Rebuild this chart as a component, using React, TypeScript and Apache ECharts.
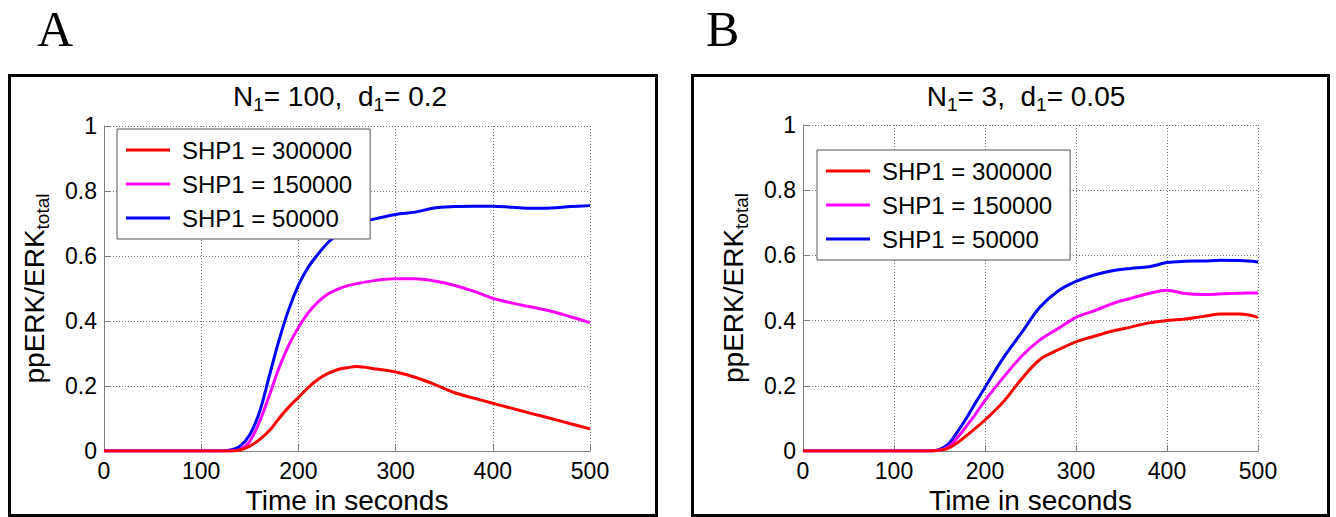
import React, { useEffect, useRef } from "react";
import * as echarts from "echarts";

// ---------- data ----------
const xTicks = [0, 100, 200, 300, 400, 500];

const timesA = [0, 100, 120, 130, 140, 150, 160, 170, 180, 190, 200, 210, 220, 230, 240, 250, 260, 280, 300, 320, 340, 360, 380, 400, 420, 440, 460, 480, 500];
const shp300000A = [0, 0, 0, 0, 0.003, 0.015, 0.035, 0.062, 0.1, 0.135, 0.165, 0.195, 0.22, 0.238, 0.25, 0.256, 0.26, 0.252, 0.243, 0.227, 0.205, 0.18, 0.163, 0.147, 0.131, 0.115, 0.1, 0.084, 0.068];
const shp150000A = [0, 0, 0, 0, 0.005, 0.03, 0.09, 0.17, 0.255, 0.325, 0.38, 0.425, 0.458, 0.482, 0.497, 0.508, 0.515, 0.525, 0.53, 0.53, 0.523, 0.51, 0.492, 0.47, 0.455, 0.443, 0.43, 0.413, 0.395];
const shp50000A = [0, 0, 0, 0.003, 0.015, 0.05, 0.12, 0.23, 0.34, 0.435, 0.51, 0.565, 0.605, 0.64, 0.665, 0.685, 0.7, 0.715, 0.728, 0.735, 0.748, 0.752, 0.753, 0.753, 0.75, 0.747, 0.748, 0.752, 0.755];

const timesB = [0, 100, 130, 140, 150, 160, 170, 180, 190, 200, 220, 240, 260, 280, 300, 320, 340, 360, 380, 400, 420, 440, 460, 480, 500];
const shp300000B = [0, 0, 0, 0, 0.002, 0.009, 0.026, 0.048, 0.071, 0.095, 0.15, 0.22, 0.28, 0.31, 0.335, 0.352, 0.368, 0.38, 0.393, 0.4, 0.405, 0.413, 0.42, 0.42, 0.41];
const shp150000B = [0, 0, 0, 0, 0.003, 0.013, 0.042, 0.078, 0.115, 0.155, 0.225, 0.29, 0.34, 0.375, 0.41, 0.43, 0.452, 0.468, 0.483, 0.493, 0.483, 0.48, 0.482, 0.484, 0.485];
const shp50000B = [0, 0, 0, 0, 0.005, 0.022, 0.06, 0.103, 0.15, 0.195, 0.285, 0.362, 0.44, 0.49, 0.52, 0.54, 0.553, 0.56, 0.565, 0.578, 0.582, 0.583, 0.585, 0.584, 0.58];

const seriesNames = ["SHP1 = 300000", "SHP1 = 150000", "SHP1 = 50000"];
const seriesColors = ["#ff0000", "#ff00ff", "#0000ff"];

const panelLetters = ["A", "B"];
const titleA = "{n|N}{s|1}{n|= 100,  d}{s|1}{n|= 0.2}";
const titleB = "{n|N}{s|1}{n|= 3,  d}{s|1}{n|= 0.05}";
const yName = "{n|ppERK/ERK}{s|total}";
const xName = "Time in seconds";

const FONT = "'Liberation Sans', Arial, Helvetica, sans-serif";

function App() {
  const ref = useRef<HTMLDivElement>(null);

  useEffect(() => {
    if (!ref.current) return;
    const chart = echarts.init(ref.current, null, { renderer: "svg" });

    const pair = (ts: number[], vs: number[]) => ts.map((t, i) => [t, vs[i]]);

    const titleRich = {
      n: { fontSize: 28, fontFamily: FONT, color: "#000", lineHeight: 36, verticalAlign: "middle" },
      s: { fontSize: 19, fontFamily: FONT, color: "#000", lineHeight: 19, verticalAlign: "bottom" },
    };
    const yRich = {
      n: { fontSize: 28, fontFamily: FONT, color: "#000", lineHeight: 36, verticalAlign: "middle" },
      s: { fontSize: 19, fontFamily: FONT, color: "#000", lineHeight: 19, verticalAlign: "bottom" },
    };

    const makeX = (gi: number) => ({
      type: "value",
      gridIndex: gi,
      min: 0,
      max: 500,
      interval: 100,
      axisLine: { show: true, onZero: false, lineStyle: { color: "#7f7f7f", width: 1 } },
      axisTick: { show: true, inside: true, length: 6, lineStyle: { color: "#7f7f7f" } },
      axisLabel: { fontSize: 23, fontFamily: FONT, color: "#000", margin: 8 },
      splitLine: { show: true, lineStyle: { type: [1, 2], color: "#707070", width: 1 } },
      name: xName,
      nameLocation: "middle",
      nameGap: 34,
      nameTextStyle: { fontSize: 28, fontFamily: FONT, color: "#000" },
    });
    const makeY = (gi: number) => ({
      type: "value",
      gridIndex: gi,
      min: 0,
      max: 1,
      interval: 0.2,
      axisLine: { show: true, onZero: false, lineStyle: { color: "#7f7f7f", width: 1 } },
      axisTick: { show: true, inside: true, length: 6, lineStyle: { color: "#7f7f7f" } },
      axisLabel: { fontSize: 23, fontFamily: FONT, color: "#000", margin: 7 },
      splitLine: { show: true, lineStyle: { type: [1, 2], color: "#707070", width: 1 } },
      name: yName,
      nameLocation: "middle",
      nameRotate: 90,
      nameGap: 52,
      nameTextStyle: { rich: yRich },
    });

    const makeSeries = (gi: number, ts: number[], arrs: number[][]) =>
      arrs.map((vs, k) => ({
        type: "line",
        name: seriesNames[k],
        xAxisIndex: gi,
        yAxisIndex: gi,
        data: pair(ts, vs),
        showSymbol: false,
        symbol: "none",
        smooth: 0.35,
        lineStyle: { color: seriesColors[k], width: 3 },
        itemStyle: { color: seriesColors[k] },
        z: 3 + (2 - k),
      }));

    const makeLegend = (left: number, top: number) => ({
      show: true,
      orient: "vertical",
      left,
      top,
      data: seriesNames,
      icon: "rect",
      itemWidth: 44,
      itemHeight: 3,
      itemGap: 10,
      padding: [9, 18, 9, 9],
      backgroundColor: "#fff",
      borderColor: "#555",
      borderWidth: 1,
      borderRadius: 0,
      selectedMode: false,
      textStyle: { fontSize: 24, fontFamily: FONT, color: "#000", lineHeight: 24, padding: [0, 0, 0, 7] },
      z: 10,
    });

    chart.setOption({
      animation: false,
      backgroundColor: "#fff",
      grid: [
        { left: 104, top: 126, width: 486, height: 325, outerBoundsMode: "none", containLabel: false },
        { left: 803, top: 125, width: 455, height: 326, outerBoundsMode: "none", containLabel: false },
      ],
      xAxis: [makeX(0), makeX(1)],
      yAxis: [makeY(0), makeY(1)],
      legend: [makeLegend(117, 129), makeLegend(817, 150)],
      series: [
        ...makeSeries(0, timesA, [shp300000A, shp150000A, shp50000A]),
        ...makeSeries(1, timesB, [shp300000B, shp150000B, shp50000B]),
      ],
      graphic: [
        { type: "rect", shape: { x: 9.5, y: 75.5, width: 647, height: 440 }, style: { fill: "none", stroke: "#000", lineWidth: 3 } },
        { type: "rect", shape: { x: 692.5, y: 75.5, width: 636, height: 440 }, style: { fill: "none", stroke: "#000", lineWidth: 3 } },
        { type: "text", x: 37, y: 29, style: { text: panelLetters[0], fontSize: 50, fontFamily: "'Liberation Serif', 'Times New Roman', serif", fill: "#000", verticalAlign: "middle" } },
        { type: "text", x: 706, y: 29, style: { text: panelLetters[1], fontSize: 50, fontFamily: "'Liberation Serif', 'Times New Roman', serif", fill: "#000", verticalAlign: "middle" } },
        { type: "text", x: 340, y: 96, style: { text: titleA, rich: titleRich, align: "center", verticalAlign: "middle" } },
        { type: "text", x: 1026, y: 96, style: { text: titleB, rich: titleRich, align: "center", verticalAlign: "middle" } },
      ],
    });

    return () => chart.dispose();
  }, []);

  return <div ref={ref} style={{ position: "fixed", left: 0, top: 0, width: 1336, height: 517 }} />;
}

export default App;
